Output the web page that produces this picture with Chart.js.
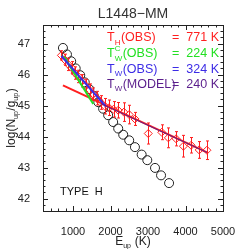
<!DOCTYPE html>
<html>
<head>
<meta charset="utf-8">
<script src="https://cdn.jsdelivr.net/npm/chart.js@4/dist/chart.umd.min.js"></script>
<style>
  html, body { margin: 0; padding: 0; background: #fff; }
</style>
</head>
<body>
<canvas id="lvd" width="249" height="249"></canvas>
<script>
// observed H2 levels (diamonds with error bars)
const obsE   = [690, 780, 870, 960, 1050, 1140, 1240, 1340, 1440, 1540, 1640, 1740, 1850, 1960, 2080, 2205, 2357, 2499, 2651, 3007, 3366, 3543, 3749, 3944, 4150, 4365, 4571];
const obsLog = [46.62, 46.48, 46.33, 46.22, 46.05, 45.94, 45.80, 45.65, 45.50, 45.37, 45.24, 45.10, 44.98, 44.93, 44.88, 44.85, 44.79, 44.71, 44.57, 44.10, 44.14, 43.96, 43.93, 43.69, 43.72, 43.57, 43.56];
const obsErr = [0.15, 0.18, 0.2, 0.2, 0.2, 0.2, 0.2, 0.2, 0.2, 0.2, 0.22, 0.22, 0.25, 0.25, 0.25, 0.25, 0.3, 0.3, 0.21, 0.34, 0.24, 0.32, 0.23, 0.35, 0.25, 0.27, 0.3];

// model levels (open circles)
const modE   = [732, 839, 952, 1072, 1193, 1313, 1434, 1554, 1675, 1803, 1937, 2071, 2205, 2339, 2499, 2652, 2831, 2981, 3187, 3348, 3562];
const modLog = [46.86, 46.65, 46.43, 46.20, 45.98, 45.75, 45.53, 45.32, 45.11, 44.90, 44.69, 44.47, 44.26, 44.06, 43.88, 43.66, 43.42, 43.24, 42.99, 42.75, 42.50];

// fit lines, end points
const hotFitE  = [732, 4573];   const hotFitLog  = [45.65, 43.49];
const warmCE   = [760, 1540];   const warmCLog   = [46.58, 45.05];
const warmObsE = [690, 1870];   const warmObsLog = [46.60, 44.98];
const modFitE  = [1750, 4573];  const modFitLog  = [45.06, 43.49];

const xTicks = [1000, 2000, 3000, 4000, 5000];
const yTicks = [42, 43, 44, 45, 46, 47];

const RED = '#ff1f1f', GREEN = '#22e022', BLUE = '#3c2ce6', PURPLE = '#5a1e8c';
const FONT = 'Liberation Sans, Arial, sans-serif';

const pts = (xs, ys) => xs.map((x, i) => ({ x: x, y: ys[i] }));

// text with sub/superscripts: parts are strings or {sub, sup}
function richWidth(ctx, parts, size) {
  let w = 0;
  parts.forEach(p => {
    if (typeof p === 'string') {
      ctx.font = size + 'px ' + FONT;
      w += ctx.measureText(p).width;
    } else {
      ctx.font = Math.round(size * 0.62) + 'px ' + FONT;
      w += Math.max(p.sub ? ctx.measureText(p.sub).width : 0, p.sup ? ctx.measureText(p.sup).width : 0) + 0.5;
    }
  });
  return w;
}
function richDraw(ctx, parts, x, y, size, color) {
  ctx.fillStyle = color;
  ctx.textBaseline = 'alphabetic';
  ctx.textAlign = 'left';
  parts.forEach(p => {
    if (typeof p === 'string') {
      ctx.font = size + 'px ' + FONT;
      ctx.fillText(p, x, y);
      x += ctx.measureText(p).width;
    } else {
      ctx.font = Math.round(size * 0.62) + 'px ' + FONT;
      let w = 0;
      if (p.sub) { ctx.fillText(p.sub, x, y + size * 0.28); w = ctx.measureText(p.sub).width; }
      if (p.sup) { ctx.fillText(p.sup, x, y - size * 0.5); w = Math.max(w, ctx.measureText(p.sup).width); }
      x += w + 0.5;
    }
  });
  return x;
}

const errorBars = {
  id: 'errorBars',
  afterDatasetDraw(chart, args) {
    if (chart.data.datasets[args.index].label !== 'obs') return;
    const { ctx, scales: { x, y } } = chart;
    ctx.save();
    ctx.strokeStyle = RED;
    ctx.lineWidth = 1;
    obsE.forEach((e, i) => {
      const px = Math.round(x.getPixelForValue(e)) + 0.5;
      const y1 = y.getPixelForValue(obsLog[i] + obsErr[i]);
      const y2 = y.getPixelForValue(obsLog[i] - obsErr[i]);
      ctx.beginPath();
      ctx.moveTo(px, y1); ctx.lineTo(px, y2);
      ctx.moveTo(px - 1.5, y1); ctx.lineTo(px + 1.5, y1);
      ctx.moveTo(px - 1.5, y2); ctx.lineTo(px + 1.5, y2);
      ctx.stroke();
    });
    ctx.restore();
  }
};

const frameAndText = {
  id: 'frameAndText',
  afterDraw(chart) {
    const { ctx, chartArea: a, scales: { x, y } } = chart;
    ctx.save();
    // box
    ctx.strokeStyle = '#222';
    ctx.lineWidth = 1;
    ctx.strokeRect(Math.round(a.left) + 0.5, Math.round(a.top) + 0.5, Math.round(a.right - a.left), Math.round(a.bottom - a.top));
    // inward ticks on all four sides
    ctx.beginPath();
    for (let v = 200; v <= 5000; v += 200) {
      const px = Math.round(x.getPixelForValue(v)) + 0.5;
      const len = v % 1000 === 0 ? 5 : 2.5;
      ctx.moveTo(px, a.bottom); ctx.lineTo(px, a.bottom - len);
      ctx.moveTo(px, a.top); ctx.lineTo(px, a.top + len);
    }
    for (let k = 418; k <= 476; k += 2) {
      const v = k / 10;
      const py = Math.round(y.getPixelForValue(v)) + 0.5;
      const len = k % 10 === 0 ? 5 : 2.5;
      ctx.moveTo(a.left, py); ctx.lineTo(a.left + len, py);
      ctx.moveTo(a.right, py); ctx.lineTo(a.right - len, py);
    }
    ctx.stroke();

    // title
    ctx.fillStyle = '#333';
    ctx.font = '14px ' + FONT;
    ctx.textAlign = 'center';
    ctx.textBaseline = 'middle';
    ctx.fillText('L1448\u2212MM', (a.left + a.right) / 2, 14);

    // temperatures
    const rows = [
      { parts: ['T', { sub: 'H' }, '(OBS)'], val: '771 K', color: RED, base: 41 },
      { parts: ['T', { sub: 'W', sup: 'C' }, '(OBS)'], val: '224 K', color: GREEN, base: 57 },
      { parts: ['T', { sub: 'W' }, '(OBS)'], val: '324 K', color: BLUE, base: 72.5 },
      { parts: ['T', { sub: 'W' }, '(MODEL)'], val: '240 K', color: PURPLE, base: 87.5 }
    ];
    rows.forEach(r => {
      richDraw(ctx, r.parts, 107, r.base, 12.5, r.color);
      ctx.font = '12.5px ' + FONT;
      ctx.textAlign = 'left';
      ctx.fillText('=', 172, r.base);
      ctx.textAlign = 'right';
      ctx.fillText(r.val, 219, r.base);
    });

    // type label
    ctx.fillStyle = '#111';
    ctx.font = '11px ' + FONT;
    ctx.textAlign = 'left';
    ctx.textBaseline = 'middle';
    ctx.fillText('TYPE  H', 60, 192);

    // axis titles
    const xt = ['E', { sub: 'up' }, ' (K)'];
    richDraw(ctx, xt, (a.left + a.right) / 2 - richWidth(ctx, xt, 12) / 2, 245, 12, '#222');
    const yt = ['log(N', { sub: 'up' }, '/g', { sub: 'up' }, ')'];
    ctx.translate(15, (a.top + a.bottom) / 2);
    ctx.rotate(-Math.PI / 2);
    richDraw(ctx, yt, -richWidth(ctx, yt, 12) / 2, 0, 12, '#222');
    ctx.restore();
  }
};

new Chart(document.getElementById('lvd'), {
  type: 'scatter',
  data: {
    datasets: [
      { type: 'line', label: 'modfit', data: pts(modFitE, modFitLog), borderColor: PURPLE, borderWidth: 1, pointRadius: 0 },
      { type: 'line', label: 'warmobs', data: pts(warmObsE, warmObsLog), borderColor: BLUE, borderWidth: 2, pointRadius: 0 },
      { type: 'line', label: 'warmc', data: pts(warmCE, warmCLog), borderColor: GREEN, borderWidth: 2, pointRadius: 0 },
      { type: 'line', label: 'hot', data: pts(hotFitE, hotFitLog), borderColor: RED, borderWidth: 2, pointRadius: 0 },
      { label: 'obs', data: pts(obsE, obsLog), pointStyle: 'rectRot', pointRadius: 4, borderColor: RED, borderWidth: 1, backgroundColor: 'rgba(0,0,0,0)' },
      { label: 'model', data: pts(modE, modLog), pointStyle: 'circle', pointRadius: 4.5, borderColor: '#222', borderWidth: 1, backgroundColor: 'rgba(0,0,0,0)' }
    ]
  },
  options: {
    responsive: false,
    animation: false,
    devicePixelRatio: 1,
    layout: { padding: { left: 0, top: 25, right: 26, bottom: 0 } },
    plugins: { legend: { display: false }, tooltip: { enabled: false } },
    scales: {
      x: {
        type: 'linear', min: 200, max: 5000,
        afterBuildTicks: s => { s.ticks = xTicks.map(v => ({ value: v })); },
        afterFit: s => { s.height = 38; },
        grid: { display: false }, border: { display: false },
        ticks: { padding: 6, color: '#222', font: { family: FONT, size: 11 }, maxRotation: 0, autoSkip: false, callback: v => String(v) }
      },
      y: {
        type: 'linear', min: 41.6, max: 47.6,
        afterBuildTicks: s => { s.ticks = yTicks.map(v => ({ value: v })); },
        afterFit: s => { s.width = 43; },
        grid: { display: false }, border: { display: false },
        ticks: { padding: 5, color: '#222', font: { family: FONT, size: 11 }, callback: v => String(v) }
      }
    }
  },
  plugins: [errorBars, frameAndText]
});
</script>
</body>
</html>
